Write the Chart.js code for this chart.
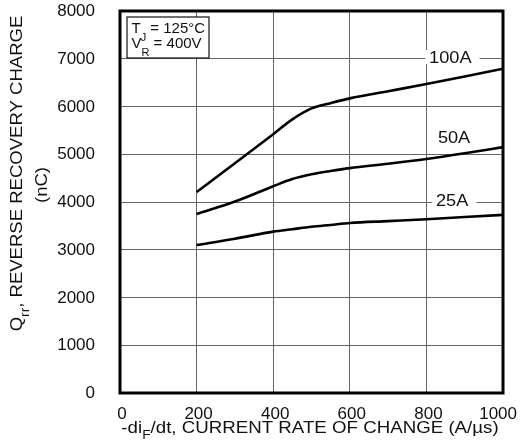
<!DOCTYPE html>
<html>
<head>
<meta charset="utf-8">
<script src="https://cdn.jsdelivr.net/npm/chart.js@4.4.1/dist/chart.umd.min.js"></script>
<style>
  html, body { margin: 0; padding: 0; background: #fff; }
  #wrap { width: 520px; height: 448px; }
</style>
</head>
<body>
<div id="wrap"><canvas id="qrr"></canvas></div>
<script>
// values (A/us -> nC)
const rates = [200, 300, 400, 450, 500, 550, 600, 700, 800, 900, 1000];
const qrr100A = [4210, 4810, 5420, 5730, 5960, 6070, 6170, 6320, 6470, 6630, 6790];
const qrr50A  = [3750, 4010, 4330, 4480, 4580, 4650, 4710, 4800, 4900, 5020, 5150];
const qrr25A  = [3100, 3230, 3380, 3430, 3480, 3520, 3560, 3600, 3640, 3685, 3730];
const xTicks = [0, 200, 400, 600, 800, 1000];
const yTicks = [0, 1000, 2000, 3000, 4000, 5000, 6000, 7000, 8000];

// curve names, anchored in data units (left edge, baseline), and whether a gridline runs under them
const curveNames = ['100A', '50A', '25A'];
const nameAt = [[807, 6910, true], [830, 5236, false], [825, 3916, true]];

const FONT = "'Liberation Sans', Arial, sans-serif";

const toPoints = (ys) => rates.map((x, i) => ({ x: x, y: ys[i] }));

const lineSet = (ys) => ({
    data: toPoints(ys),
    borderColor: '#000',
    borderWidth: 2.6,
    pointRadius: 0,
    cubicInterpolationMode: 'monotone',
    fill: false
});

// text with lowered subscript parts, optional horizontal stretch
function partsWidth(ctx, parts, size, subSize) {
    let w = 0;
    parts.forEach(p => {
        ctx.font = (p.sub ? subSize : size) + 'px ' + FONT;
        w += ctx.measureText(p.t).width;
    });
    return w;
}
function drawParts(ctx, parts, x, y, size, subSize, subDrop, stretch) {
    ctx.save();
    ctx.translate(x, y);
    ctx.scale(stretch, 1);
    let cx = 0;
    parts.forEach(p => {
        ctx.font = (p.sub ? subSize : size) + 'px ' + FONT;
        ctx.fillText(p.t, cx, p.sub ? subDrop : 0);
        cx += ctx.measureText(p.t).width;
    });
    ctx.restore();
}

const decorations = {
    id: 'decorations',
    afterDraw(chart) {
        const ctx = chart.ctx;
        const a = chart.chartArea;
        const sx = chart.scales.x, sy = chart.scales.y;
        ctx.save();
        ctx.fillStyle = '#111';
        ctx.textBaseline = 'alphabetic';

        // curve names
        curveNames.forEach((name, i) => {
            const px = sx.getPixelForValue(nameAt[i][0]);
            const py = sy.getPixelForValue(nameAt[i][1]);
            ctx.font = '17px ' + FONT;
            const w = ctx.measureText(name).width * 1.07;
            if (nameAt[i][2]) {
                ctx.fillStyle = '#fff';
                ctx.fillRect(px - 4, py - 13, w + 12, 14);
                ctx.fillStyle = '#111';
            }
            drawParts(ctx, [{ t: name }], px, py, 17, 17, 0, 1.07);
        });

        // conditions box
        const bx = a.left + 7, by = a.top + 6;
        ctx.fillStyle = '#fff';
        ctx.fillRect(bx, by, 82, 41);
        ctx.strokeStyle = '#111';
        ctx.lineWidth = 1.2;
        ctx.strokeRect(bx, by, 82, 41);
        ctx.fillStyle = '#111';
        drawParts(ctx, [{ t: 'T' }, { t: 'J', sub: true }, { t: ' = 125°C' }], bx + 4.5, by + 16, 15, 11, 8, 1);
        drawParts(ctx, [{ t: 'V' }, { t: 'R', sub: true }, { t: ' = 400V' }], bx + 4.5, by + 31, 15, 11, 8, 1);

        // frame
        ctx.strokeStyle = '#000';
        ctx.lineWidth = 3;
        ctx.strokeRect(a.left, a.top, a.right - a.left, a.bottom - a.top);

        // tick labels
        ctx.font = '17px ' + FONT;
        ctx.textBaseline = 'middle';
        ctx.textAlign = 'right';
        yTicks.forEach(v => {
            ctx.fillText(String(v), 95, sy.getPixelForValue(v) + 0.5);
        });
        ctx.textBaseline = 'alphabetic';
        ctx.textAlign = 'left';
        xTicks.forEach(v => {
            const s = String(v);
            const w = ctx.measureText(s).width;
            let left = sx.getPixelForValue(v) - w / 2 + 2;
            left = Math.min(left, 517 - w);
            ctx.fillText(s, left, 419);
        });

        // x title
        const xt = [{ t: '-di' }, { t: 'F', sub: true }, { t: '/dt, CURRENT RATE OF CHANGE (A/µs)' }];
        const xw = partsWidth(ctx, xt, 17, 12.5) * 1.1;
        drawParts(ctx, xt, 310 - xw / 2, 433, 17, 12.5, 6, 1.1);

        // y title, rotated
        ctx.translate(22, 173.5);
        ctx.rotate(-Math.PI / 2);
        const yt = [{ t: 'Q' }, { t: 'rr', sub: true }, { t: ', REVERSE RECOVERY CHARGE' }];
        const yw = partsWidth(ctx, yt, 17, 12.5) * 1.09;
        drawParts(ctx, yt, -yw / 2, 0, 17, 12.5, 6.5, 1.09);
        ctx.font = '17px ' + FONT;
        const nw = ctx.measureText('(nC)').width * 1.09;
        drawParts(ctx, [{ t: '(nC)' }], -11.5 - nw / 2, 25, 17, 17, 0, 1.09);
        ctx.restore();
    }
};

new Chart(document.getElementById('qrr').getContext('2d'), {
    type: 'line',
    data: {
        datasets: [lineSet(qrr100A), lineSet(qrr50A), lineSet(qrr25A)]
    },
    options: {
        responsive: true,
        maintainAspectRatio: false,
        animation: false,
        layout: { padding: { top: 11, right: 17, bottom: 0, left: 0 } },
        plugins: { legend: { display: false }, tooltip: { enabled: false } },
        scales: {
            x: {
                type: 'linear',
                min: 0, max: 1000,
                afterBuildTicks: (s) => { s.ticks = xTicks.map(v => ({ value: v })); },
                afterFit: (s) => { s.height = 55; s.paddingLeft = 0; s.paddingRight = 0; },
                ticks: { display: false },
                grid: { color: '#666', lineWidth: 1, drawTicks: false },
                border: { display: false }
            },
            y: {
                min: 0, max: 8000,
                afterBuildTicks: (s) => { s.ticks = yTicks.map(v => ({ value: v })); },
                afterFit: (s) => { s.width = 120; s.paddingTop = 0; s.paddingBottom = 0; },
                ticks: { display: false },
                grid: { color: '#666', lineWidth: 1, drawTicks: false },
                border: { display: false }
            }
        }
    },
    plugins: [decorations]
});
</script>
</body>
</html>
